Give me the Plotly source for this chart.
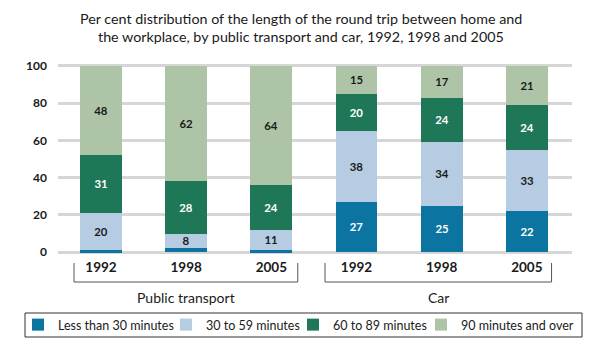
import plotly.graph_objects as go

groups = ["Public transport", "Public transport", "Public transport", "Car", "Car", "Car"]
years = ["1992", "1998", "2005", "1992", "1998", "2005"]
series_names = ["Less than 30 minutes", "30 to 59 minutes", "60 to 89 minutes", "90 minutes and over"]
less_30 = [1, 2, 1, 27, 25, 22]
m30_59 = [20, 8, 11, 38, 34, 33]
m60_89 = [31, 28, 24, 20, 24, 24]
m90_plus = [48, 62, 64, 15, 17, 21]
y_ticks = [0, 20, 40, 60, 80, 100]
title_lines = ["Per cent distribution of the length of the round trip between home and",
               "the workplace, by public transport and car, 1992, 1998 and 2005"]

colors = ["#0b74a0", "#b5cce2", "#1e7858", "#adc5a6"]
text_colors = ["#ffffff", "#1a1a1a", "#ffffff", "#1a1a1a"]
FONT = "Lato, 'Open Sans', sans-serif"

W, H = 595, 343
ML, MR, MT, MB = 58, 23, 64, 89
PW, PH = W - ML - MR, H - MT - MB


def py(pix):
    return (H - MB - pix) / PH


def px(pix):
    return (pix - ML) / PW


legend_ids = ["legend", "legend2", "legend3", "legend4"]
legend_left = [18, 166, 293, 421]

xpos = list(range(len(years)))
fig = go.Figure()
for name, vals, col, tc, lid in zip(series_names, [less_30, m30_59, m60_89, m90_plus], colors, text_colors, legend_ids):
    fig.add_trace(go.Bar(
        x=xpos, y=vals, name=name, width=0.49,
        marker=dict(color=col, line=dict(width=0)),
        text=[str(v) if v >= 5 else "" for v in vals],
        textposition="inside", insidetextanchor="middle", textangle=0,
        textfont=dict(color=tc, size=13, family=FONT, weight="bold"),
        hoverinfo="skip", legend=lid,
    ))

layout_legends = {}
for lid, lx in zip(legend_ids, legend_left):
    layout_legends[lid] = dict(
        orientation="h", xref="container", yref="container",
        x=lx / W, xanchor="left", y=1 - 325 / H, yanchor="middle",
        borderwidth=0, bgcolor="rgba(0,0,0,0)",
        font=dict(size=12.5, family=FONT, color="#1a1a1a"),
        itemwidth=30,
    )

fig.update_layout(
    barmode="stack",
    width=W, height=H,
    margin=dict(l=ML, r=MR, t=MT, b=MB),
    paper_bgcolor="white", plot_bgcolor="white",
    font=dict(family=FONT, color="#1a1a1a", size=12),
    bargap=0,
    showlegend=True,
    uniformtext=dict(minsize=8, mode="show"),
    **layout_legends,
)
for line, yc in zip(title_lines, [19, 36.5]):
    fig.add_annotation(
        text=line, xref="paper", yref="paper", x=px(301), y=py(yc),
        xanchor="center", yanchor="middle", showarrow=False,
        font=dict(size=14.3, family=FONT, color="#1a1a1a"),
    )
fig.update_xaxes(
    range=[-0.505, 5.53], tickvals=xpos, ticktext=years,
    showgrid=False, zeroline=False, showline=False, ticks="",
    tickfont=dict(size=13.5, family=FONT, color="#1a1a1a", weight="bold"),
    ticklabelstandoff=3,
)
fig.update_yaxes(
    range=[-1, 101], tickvals=y_ticks,
    showgrid=True, gridcolor="#d6d6d6", gridwidth=2.5,
    zeroline=False, showline=False, ticks="",
    tickfont=dict(size=12, family=FONT, color="#1a1a1a", weight="bold"),
    ticklabelstandoff=10,
)

# legend box
fig.add_shape(type="rect", xref="paper", yref="paper",
              x0=px(25), x1=px(582), y0=py(337), y1=py(313),
              line=dict(color="#333333", width=1), fillcolor="rgba(0,0,0,0)")

# group brackets and labels
bracket_spans = [(-0.317, 2.31, "Public transport"), (2.63, 5.29, "Car")]
for x0, x1, label in bracket_spans:
    for xx in (x0, x1):
        fig.add_shape(type="line", xref="x", yref="paper", x0=xx, x1=xx, y0=py(263), y1=py(282),
                      line=dict(color="#555555", width=1))
    fig.add_shape(type="line", xref="x", yref="paper", x0=x0, x1=x1, y0=py(282), y1=py(282),
                  line=dict(color="#555555", width=1))
    fig.add_annotation(x=(x0 + x1) / 2, y=py(297), xref="x", yref="paper", text=label,
                       showarrow=False, font=dict(size=14, family=FONT, color="#1a1a1a"),
                       xanchor="center", yanchor="middle")

fig.write_html("out.html")
